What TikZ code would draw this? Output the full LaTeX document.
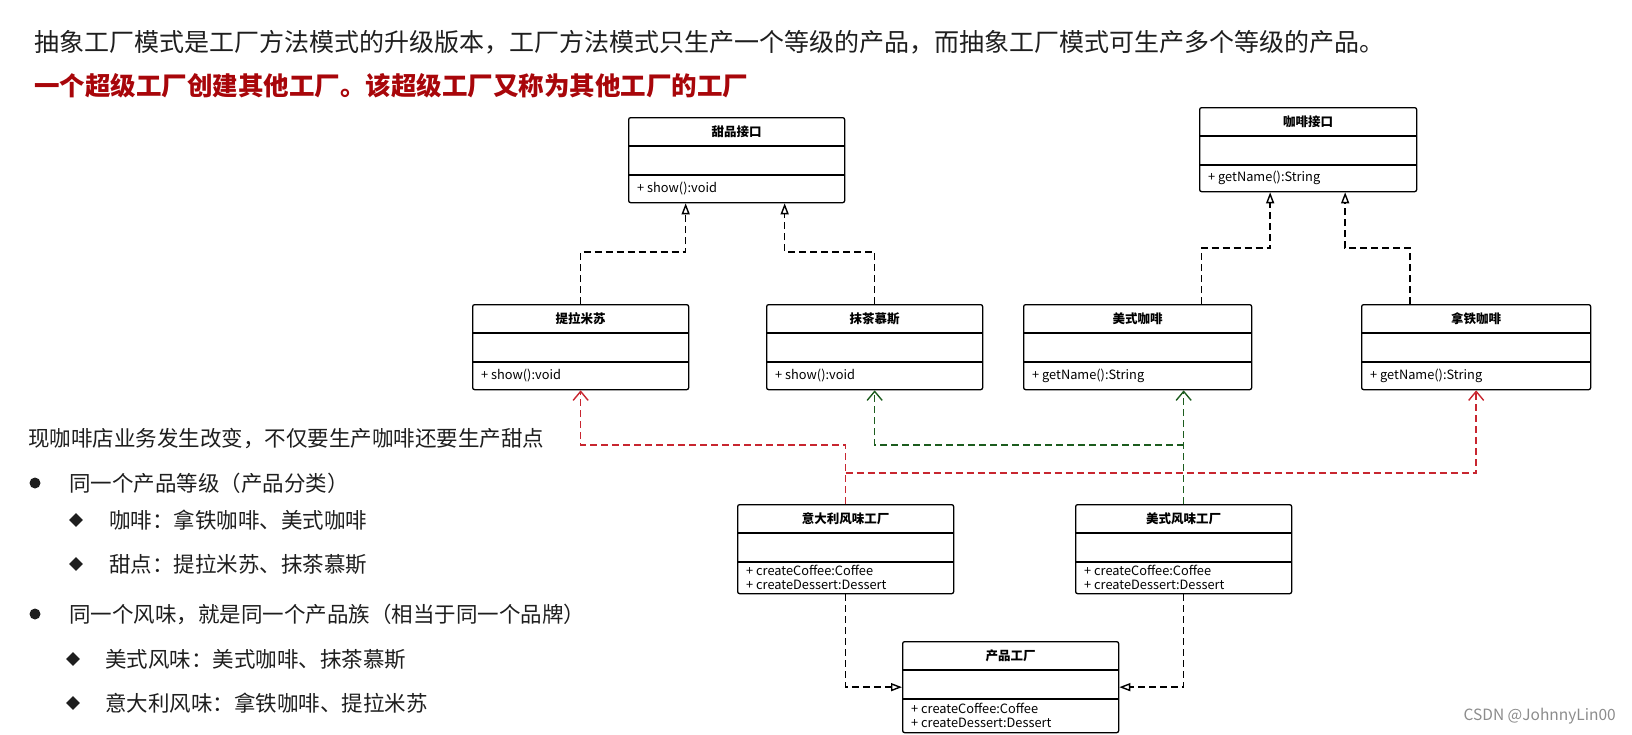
\documentclass[tikz,border=0pt]{standalone}
\usepackage{fontspec}
\setmainfont{Noto Sans CJK SC}
\usetikzlibrary{arrows.meta,shapes.geometric}

\definecolor{titlered}{RGB}{168,6,10}
\definecolor{linkred}{RGB}{200,38,48}
\definecolor{linkgreen}{RGB}{28,92,30}
\definecolor{bodytext}{RGB}{30,30,30}

% class box: name, x, y (top left), width, height, title, methods
\newcommand{\umlclass}[7]{%
    \node[umlbox, minimum width=#4pt, minimum height=#5pt, anchor=north west] (#1) at (#2,#3) {};
    \draw[umlline] ([yshift=-29pt]#1.north west) -- ([yshift=-29pt]#1.north east);
    \draw[umlline] ([yshift=-58pt]#1.north west) -- ([yshift=-58pt]#1.north east);
    \node[umltitle] at ([yshift=-14.5pt]#1.north) {#6};
    \node[umlmethod] at ([xshift=9pt,yshift={-(#5+58)/2}]#1.north west) {#7};
}

\begin{document}
\begin{tikzpicture}[x=1pt,y=-1pt]
    \tikzset{umlbox/.style = {draw, line width=1.3pt, rounded corners=2pt, fill=white, inner sep=0pt}}
    \tikzset{umlline/.style = {line width=1.1pt}}
    \tikzset{umltitle/.style = {font=\fontsize{12.5}{15}\selectfont\bfseries, inner sep=0pt}}
    \tikzset{umlmethod/.style = {anchor=west, align=left, inner sep=0pt, font=\fontsize{12.8}{14}\selectfont}}
    \tikzset{realize/.style = {dashed, dash pattern=on 7pt off 4pt, line width=1.4pt, -{Triangle[open, length=11pt, width=8pt]}}}
    \tikzset{depred/.style = {dashed, dash pattern=on 7pt off 4pt, line width=1.4pt, linkred, -{Straight Barb[length=9pt, width=15pt]}}}
    \tikzset{depgreen/.style = {depred, linkgreen}}
    \tikzset{bigtext/.style = {anchor=west, inner sep=0pt, font=\fontsize{25}{30}\selectfont}}
    \tikzset{sidetext/.style = {anchor=west, inner sep=0pt, text=bodytext, font=\fontsize{21.5}{25}\selectfont}}
    \tikzset{dot/.style = {circle, fill=bodytext, inner sep=0pt, minimum size=11pt}}
    \tikzset{gem/.style = {diamond, fill=bodytext, inner sep=0pt, minimum size=14pt}}

    \useasboundingbox (0,0) rectangle (1632,734);

    % headings
    \node[bigtext, text=bodytext] (intro) at (34,42) {抽象工厂模式是工厂方法模式的升级版本，工厂方法模式只生产一个等级的产品，而抽象工厂模式可生产多个等级的产品。};
    \node[bigtext, text=titlered, font=\fontsize{25.5}{30}\selectfont\bfseries] (slogan) at (34,86) {一个超级工厂创建其他工厂。该超级工厂又称为其他工厂的工厂};

    % notes on the left
    \node[sidetext] (change) at (28,439) {现咖啡店业务发生改变，不仅要生产咖啡还要生产甜点};
    \node[dot] (b1) at (35,483) {};
    \node[sidetext] (level) at (69,483) {同一个产品等级（产品分类）};
    \node[gem] (d1) at (76,520) {};
    \node[sidetext] (coffee) at (109,520) {咖啡：拿铁咖啡、美式咖啡};
    \node[gem] (d2) at (76,564) {};
    \node[sidetext] (dessert) at (109,564) {甜点：提拉米苏、抹茶慕斯};
    \node[dot] (b2) at (35,614) {};
    \node[sidetext] (family) at (69,614) {同一个风味，就是同一个产品族（相当于同一个品牌）};
    \node[gem] (d3) at (73,659) {};
    \node[sidetext] (usstyle) at (105,659) {美式风味：美式咖啡、抹茶慕斯};
    \node[gem] (d4) at (73,703) {};
    \node[sidetext] (itstyle) at (105,703) {意大利风味：拿铁咖啡、提拉米苏};

    % classes
    \umlclass{tpjk}{628}{117}{216}{85}{甜品接口}{+ show():void}
    \umlclass{kfjk}{1199}{107}{217}{84}{咖啡接口}{+ getName():String}
    \umlclass{tlms}{472}{304}{216}{85}{提拉米苏}{+ show():void}
    \umlclass{mcms}{766}{304}{216}{85}{抹茶慕斯}{+ show():void}
    \umlclass{mskf}{1023}{304}{228}{85}{美式咖啡}{+ getName():String}
    \umlclass{ltkf}{1361}{304}{229}{85}{拿铁咖啡}{+ getName():String}
    \umlclass{ydlgc}{737}{504}{216}{89}{意大利风味工厂}{+ createCoffee:Coffee\\+ createDessert:Dessert}
    \umlclass{msgc}{1075}{504}{216}{89}{美式风味工厂}{+ createCoffee:Coffee\\+ createDessert:Dessert}
    \umlclass{cpgc}{902}{641}{216}{91}{产品工厂}{+ createCoffee:Coffee\\+ createDessert:Dessert}

    % products to interfaces
    \draw[realize] (tlms.north) -- ++(0,-52) -| ([xshift=-51pt]tpjk.south);
    \draw[realize] (mcms.north) -- ++(0,-52) -| ([xshift=48pt]tpjk.south);
    \draw[realize] ([xshift=64pt]mskf.north) -- ++(0,-56) -| ([xshift=-38pt]kfjk.south);
    \draw[realize] ([xshift=-66pt]ltkf.north) -- ++(0,-56) -| ([xshift=37pt]kfjk.south);

    % factories to products
    \draw[depred] (ydlgc.north) -- ++(0,-59) -| (tlms.south);
    \draw[depred] ([yshift=31pt]ydlgc.north) -| (ltkf.south);
    \draw[depgreen] (msgc.north) -- (msgc.north |- mskf.south);
    \draw[depgreen] ([yshift=59pt]msgc.north) -| (mcms.south);

    % factories to product factory
    \draw[realize] (ydlgc.south) |- (cpgc.west);
    \draw[realize] (msgc.south) |- (cpgc.east);

    \node[anchor=east, inner sep=0pt, text=black!45, font=\fontsize{15.5}{17}\selectfont] (mark) at (1616,716) {CSDN @JohnnyLin00};
\end{tikzpicture}
\end{document}
